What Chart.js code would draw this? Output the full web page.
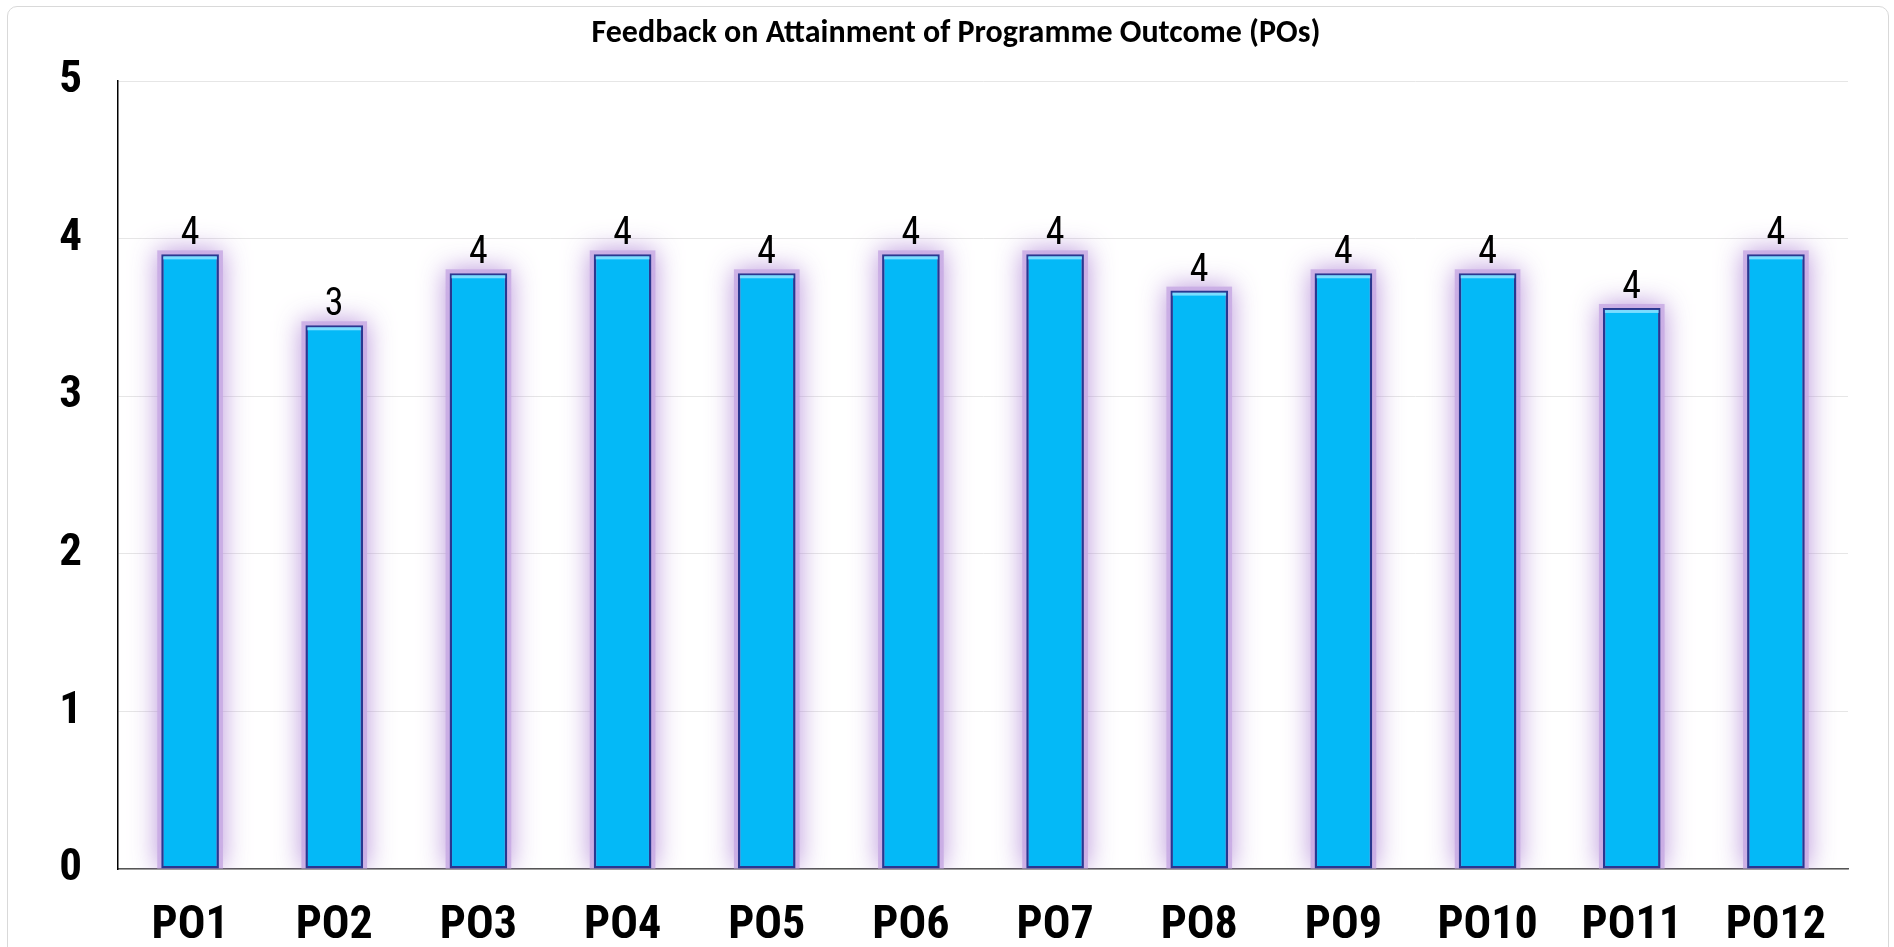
<!DOCTYPE html>
<html>
<head>
<meta charset="utf-8">
<script src="https://cdn.jsdelivr.net/npm/chart.js@4.4.1/dist/chart.umd.min.js"></script>
<style>
  html, body { margin: 0; padding: 0; background: #fff; }
  #wrap { position: relative; width: 1894px; height: 947px; overflow: hidden; }
  #card { position: absolute; left: 7px; top: 6px; width: 1882px; height: 960px;
          border: 1px solid #d9d9d9; border-radius: 10px; box-sizing: border-box; }
  canvas { position: absolute; left: 0; top: 0; }
</style>
</head>
<body>
<div id="wrap">
  <div id="card"></div>
  <canvas id="c" width="1894" height="947"></canvas>
</div>
<script>
const categories = ['PO1','PO2','PO3','PO4','PO5','PO6','PO7','PO8','PO9','PO10','PO11','PO12'];
const values = [3.9, 3.45, 3.78, 3.9, 3.78, 3.9, 3.9, 3.67, 3.78, 3.78, 3.56, 3.9];
const yTicks = [0, 1, 2, 3, 4, 5];
const titleText = 'Feedback on Attainment of Programme Outcome (POs)';

const narrow = "'Liberation Sans Narrow', 'Arial Narrow', 'Roboto Condensed', sans-serif";

const decoPlugin = {
  id: 'deco',
  beforeDatasetsDraw(chart) {
    const ctx = chart.ctx;
    const meta = chart.getDatasetMeta(0);
    const area = chart.chartArea;
    ctx.save();
    ctx.beginPath();
    ctx.rect(area.left + 1, 0, area.right - area.left, area.bottom);
    ctx.clip();
    meta.data.forEach((bar) => {
      const half = bar.width / 2;
      ctx.shadowColor = 'rgba(170, 125, 210, 0.95)';
      ctx.shadowBlur = 26;
      ctx.fillStyle = 'rgba(200, 170, 228, 0.85)';
      ctx.fillRect(bar.x - half - 4, bar.y - 4, bar.width + 8, bar.base - bar.y + 4);
    });
    ctx.restore();
  },
  afterDatasetsDraw(chart) {
    const ctx = chart.ctx;
    const meta = chart.getDatasetMeta(0);
    ctx.save();
    meta.data.forEach((bar) => {
      const half = bar.width / 2;
      ctx.fillStyle = 'rgba(130, 222, 255, 0.95)';
      ctx.fillRect(bar.x - half + 2, bar.y + 2, bar.width - 4, 3);
    });
    ctx.fillStyle = '#000';
    ctx.font = '38px ' + narrow;
    ctx.textAlign = 'center';
    ctx.textBaseline = 'alphabetic';
    meta.data.forEach((bar, i) => {
      ctx.fillText(String(Math.round(values[i])), bar.x, bar.y - 10);
    });
    // title
    ctx.font = "bold 32px Carlito, Lato, 'Open Sans', sans-serif";
    ctx.textBaseline = 'middle';
    ctx.fillText(titleText, 956, 34);
    ctx.restore();
  }
};

new Chart(document.getElementById('c'), {
  type: 'bar',
  data: {
    labels: categories,
    datasets: [{
      data: values,
      backgroundColor: '#04B9F7',
      borderColor: '#2A3790',
      borderWidth: 2.5,
      borderSkipped: false,
      barPercentage: 0.4,
      categoryPercentage: 1.0
    }]
  },
  options: {
    responsive: false,
    animation: false,
    devicePixelRatio: 1,
    layout: { padding: { left: 0, right: 46, top: 81, bottom: 0 } },
    plugins: {
      legend: { display: false },
      tooltip: { enabled: false },
      title: { display: false }
    },
    scales: {
      x: {
        grid: { display: false },
        border: { display: true, color: '#555', width: 1.5 },
        ticks: {
          color: '#000',
          font: { family: narrow, size: 46, weight: 'bold' },
          padding: 22,
          maxRotation: 0
        },
        afterFit(scale) { scale.height = 78; }
      },
      y: {
        min: 0,
        max: 5,
        afterBuildTicks(scale) { scale.ticks = yTicks.map(v => ({ value: v })); },
        grid: { color: '#e6e6e6', lineWidth: 1, drawTicks: false },
        border: { display: true, color: '#000', width: 1.5 },
        ticks: {
          color: '#000',
          font: { family: narrow, size: 45, weight: 'bold' },
          padding: 36
        },
        afterFit(scale) { scale.width = 118; }
      }
    }
  },
  plugins: [decoPlugin]
});
</script>
</body>
</html>
